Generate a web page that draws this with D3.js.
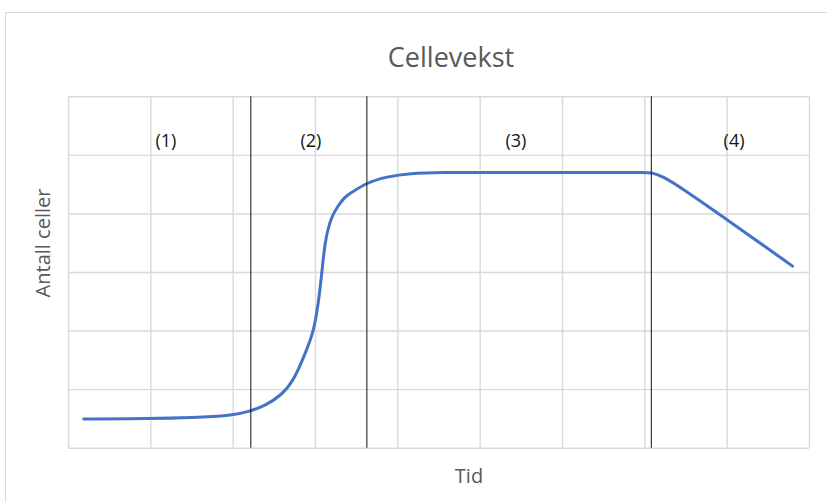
<!DOCTYPE html>
<html>
<head>
<meta charset="utf-8">
<script src="https://cdn.jsdelivr.net/npm/d3@7"></script>
<style>
  html, body { margin: 0; padding: 0; background: #fff; }
  svg { display: block; }
  text { font-family: "Open Sans", "Noto Sans", sans-serif; }
</style>
</head>
<body>
<svg id="chart" width="827" height="502"></svg>
<script>
// Time (in grid units) and cell count for the growth curve
const tid = [0.19, 1.0, 1.5, 2.0, 2.19, 2.39, 2.596, 2.737, 2.866, 2.960, 3.000, 3.040, 3.069, 3.094, 3.122, 3.154, 3.203, 3.271, 3.364, 3.425, 3.628, 3.871, 4.154, 4.52, 5.2, 6.0, 6.7, 7.0, 7.09, 7.23, 7.43, 8.0, 8.80];
const antallCeller = [4.9, 4.95, 5.1, 5.5, 6.15, 7.12, 9.0, 11.38, 15.54, 18.95, 21.24, 24.65, 28.07, 31.48, 34.90, 37.17, 39.44, 41.15, 42.85, 43.4, 45.25, 46.27, 46.85, 47.0, 47.0, 47.0, 47.0, 47.0, 47.0, 46.27, 44.56, 39.0, 31.0];

// Boundaries between the growth phases
const faseGrenser = [2.22, 3.63, 7.085];
// Phase labels and their horizontal centres
const faseNavn = ["(1)", "(2)", "(3)", "(4)"];
const faseSenter = [1.19, 2.95, 5.44, 8.09];
const faseEtikettY = 52.2;

// Gridline ticks (no tick labels shown)
const xTicks = [0, 1, 2, 3, 4, 5, 6, 7, 8, 9];
const yTicks = [0, 10, 20, 30, 40, 50, 60];

const svg = d3.select("#chart");
const plot = { left: 68, right: 809, top: 96.3, bottom: 447.7 };

const x = d3.scaleLinear().domain([0, 9]).range([plot.left, plot.right]);
const y = d3.scaleLinear().domain([0, 60]).range([plot.bottom, plot.top]);

// Chart area frame
svg.append("rect")
  .attr("x", 5.5).attr("y", 12.5)
  .attr("width", 900).attr("height", 600)
  .attr("fill", "#fff")
  .attr("stroke", "#d9d9d9")
  .attr("stroke-width", 1);

// Vertical gridlines
const gx = svg.append("g")
  .attr("transform", `translate(0,${plot.bottom})`)
  .call(d3.axisBottom(x).tickValues(xTicks)
    .tickSize(-(plot.bottom - plot.top)).tickFormat(""));
// Horizontal gridlines
const gy = svg.append("g")
  .attr("transform", `translate(${plot.left},0)`)
  .call(d3.axisLeft(y).tickValues(yTicks)
    .tickSize(-(plot.right - plot.left)).tickFormat(""));
[gx, gy].forEach(g => {
  g.select(".domain").remove();
  g.selectAll(".tick line")
    .attr("stroke", "#d9d9d9")
    .attr("stroke-width", 1.4);
});

// Growth curve (smoothed B-spline through the sampled values)
const pts = tid.map((t, i) => [t, antallCeller[i]]);
const line = d3.line()
  .x(d => x(d[0]))
  .y(d => y(d[1]))
  .curve(d3.curveBasis);
svg.append("path")
  .datum(pts)
  .attr("d", line)
  .attr("fill", "none")
  .attr("stroke", "#4472c4")
  .attr("stroke-width", 3)
  .attr("stroke-linecap", "round")
  .attr("stroke-linejoin", "round");

// Phase boundary lines
svg.append("g").selectAll("line")
  .data(faseGrenser)
  .join("line")
  .attr("x1", d => x(d)).attr("x2", d => x(d))
  .attr("y1", plot.top).attr("y2", plot.bottom)
  .attr("stroke", "#262626")
  .attr("stroke-width", 1.1);

// Phase labels
svg.append("g").selectAll("text")
  .data(faseNavn)
  .join("text")
  .attr("x", (d, i) => x(faseSenter[i]))
  .attr("y", y(faseEtikettY))
  .attr("text-anchor", "middle")
  .attr("dominant-baseline", "middle")
  .attr("font-size", 18)
  .attr("fill", "#141414")
  .text(d => d);

// Title
svg.append("text")
  .attr("x", 451).attr("y", 67)
  .attr("text-anchor", "middle")
  .attr("font-size", 27)
  .attr("fill", "#595959")
  .text("Cellevekst");

// Axis titles
svg.append("text")
  .attr("x", 469).attr("y", 482.5)
  .attr("text-anchor", "middle")
  .attr("font-size", 20)
  .attr("fill", "#595959")
  .text("Tid");

svg.append("text")
  .attr("transform", "translate(50,243) rotate(-90)")
  .attr("text-anchor", "middle")
  .attr("font-size", 20)
  .attr("fill", "#595959")
  .text("Antall celler");
</script>
</body>
</html>
